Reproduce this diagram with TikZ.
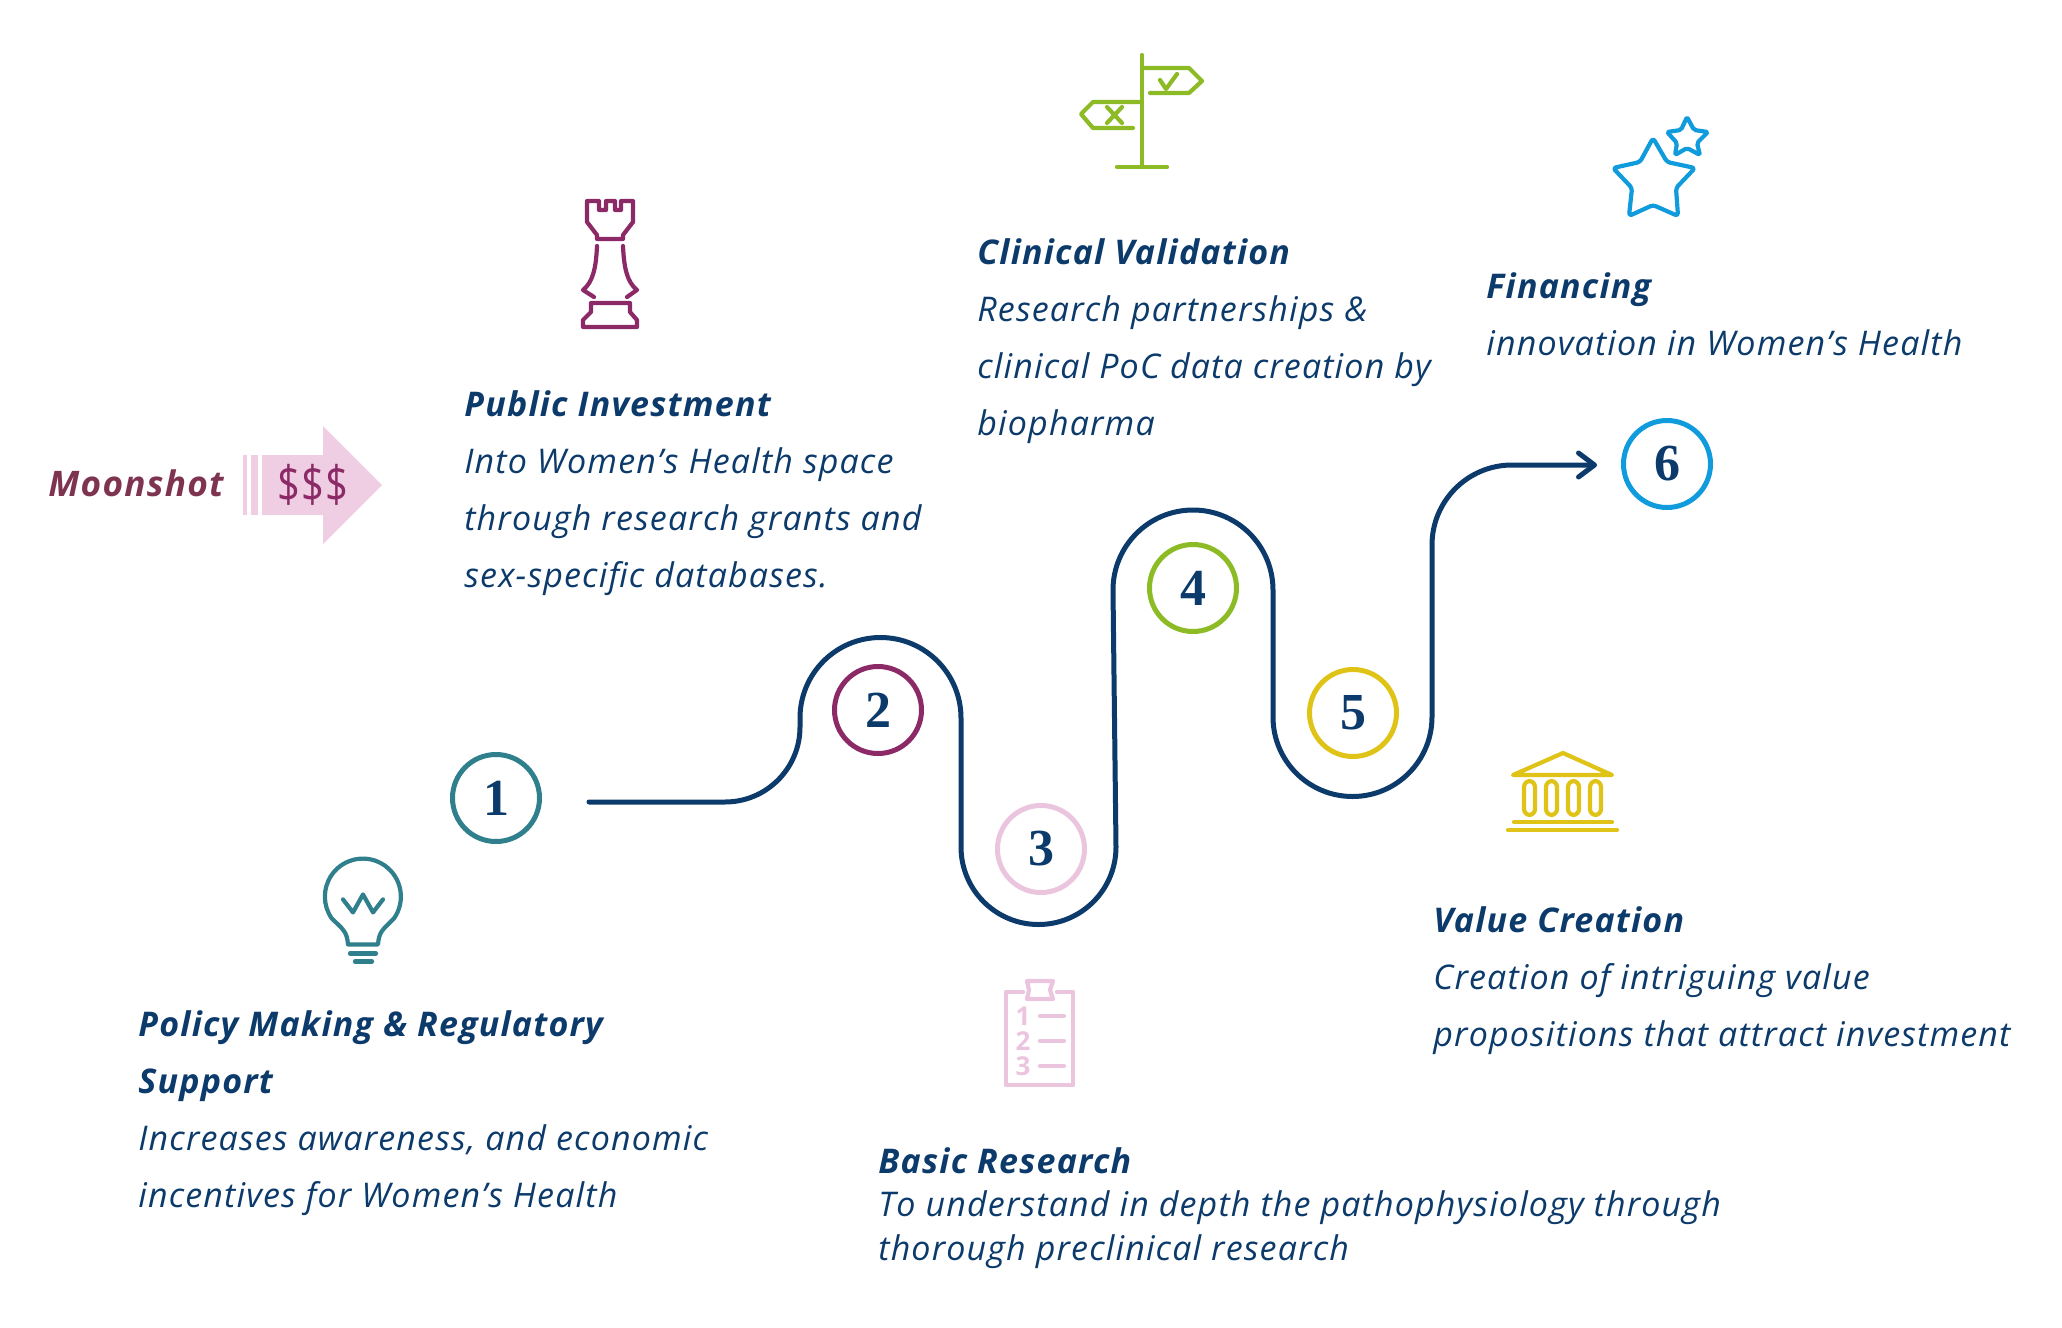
\documentclass[tikz,border=0pt]{standalone}
\usepackage{fontspec}
\setmainfont{Open Sans}[LetterSpace=3.4,BoldItalicFeatures={LetterSpace=3.6}]
\newfontfamily\numfont{Liberation Serif}
\usetikzlibrary{arrows.meta,positioning}
\definecolor{navy}{HTML}{0B3A6B}
\definecolor{teal1}{HTML}{2F7F8C}
\definecolor{plum2}{HTML}{8B2A66}
\definecolor{pink3}{HTML}{EBC4DE}
\definecolor{green4}{HTML}{8DBB25}
\definecolor{gold5}{HTML}{DFC317}
\definecolor{blue6}{HTML}{0F9BDC}
\definecolor{arrowpink}{HTML}{EFCEE3}
\definecolor{moonred}{HTML}{7E3350}
\tikzset{
step_circle/.style={
	% The shape:
	circle,
	minimum size=43.5pt,
	inner sep=0pt,
	% The border:
	line width=2.5pt,
	draw=#1,
	% Font
	text=navy,
	font=\numfont\bfseries\fontsize{26}{26}\selectfont
},
step_text/.style={
	anchor=north west,
	inner sep=0pt,
	align=left,
	text=navy,
	font=\itshape\fontsize{17}{28.6}\selectfont
},
icon/.style={
	line width=2.1pt,
	line cap=round,
	line join=round,
	draw=#1
}
}

\begin{document}
\begin{tikzpicture}[x=0.5pt,y=-0.5pt]
	\useasboundingbox (0,0) rectangle (2062,1328);

	% numbered stops
	\node[step_circle=teal1] (c1) at (496,798) {1};
	\node[step_circle=plum2] (c2) at (878,710) {2};
	\node[step_circle=pink3] (c3) at (1041,849) {3};
	\node[step_circle=green4] (c4) at (1193,588) {4};
	\node[step_circle=gold5] (c5) at (1353,713) {5};
	\node[step_circle=blue6] (c6) at (1667,464) {6};

	% the road
	\coordinate (road_start) at (589,802);
	\coordinate (road_end) at (1597,465);
	\draw[navy,line width=2.5pt,line cap=round,-{Straight Barb[round,length=8pt,width=12pt]}] (road_start) -- (725,802)
		arc[start angle=90,end angle=0,radius=75] -- (800,718)
		arc[start angle=180,end angle=360,radius=80.5] -- (961,847)
		arc[start angle=180,end angle=0,radius=77.5] -- (1116,847) -- (1113,590)
		arc[start angle=180,end angle=360,radius=80] -- (1273,717)
		arc[start angle=180,end angle=0,radius=79.5] -- (1432,545)
		arc[start angle=180,end angle=270,radius=80] -- (road_end);

	% texts
	\node[step_text] (policy) at (138,1010) {\textbf{Policy Making \& Regulatory}\\\textbf{Support}\\Increases awareness, and economic\\incentives for Women’s Health};
	\node[step_text] (public) at (464,390) {\textbf{Public Investment}\\Into Women’s Health space\\through research grants and\\sex-specific databases.};
	\node[step_text] (basic) at (878,1147) [font=\itshape\fontsize{17}{21.7}\selectfont] {\textbf{Basic Research}\\To understand in depth the pathophysiology through\\thorough preclinical research};
	\node[step_text] (clinical) at (977,238) {\textbf{Clinical Validation}\\Research partnerships \&\\clinical PoC data creation by\\biopharma};
	\node[step_text] (value) at (1433,906) {\textbf{Value Creation}\\Creation of intriguing value\\propositions that attract investment};
	\node[step_text] (financing) at (1486,272) {\textbf{Financing}\\innovation in Women’s Health};

	% moonshot arrow
	\node[anchor=base west,inner sep=0pt,text=moonred,font=\bfseries\itshape\fontsize{17.6}{18}\selectfont] (moonshot) at (48,496) {Moonshot};
	\fill[arrowpink] (243,455) rectangle (247,515);
	\fill[arrowpink] (251,455) rectangle (258,515);
	\fill[arrowpink] (262,455) -- (323,455) -- (323,426) -- (382,485) -- (323,544) -- (323,515) -- (262,515) -- cycle;
	\node[text=plum2,inner sep=0pt,font=\fontsize{21}{24}\selectfont] (money) at (313,485) {\scalebox{0.95}[1.2]{\$\$\$}};

	% bulb
	\begin{scope}[yshift=-0.7pt]
	\draw[icon=teal1] (348,943) -- (378,943) .. controls (379,930) and (383,928) .. (394,917)
		arc[start angle=35,end angle=-215,radius=38] .. controls (343,928) and (347,930) .. (348,943);
	\draw[icon=teal1] (343,898) -- (353,911) -- (363,893) -- (373,911) -- (383,898);
	\draw[icon=teal1] (350,952) -- (376,952);
	\draw[icon=teal1] (355,960) -- (372,960);
	\end{scope}

	% rook
	\draw[icon=plum2] (587,201) -- (599,201) -- (599,210) -- (606,210) -- (606,201) -- (615,201) -- (615,210) -- (621,210) -- (621,201) -- (633,201) -- (633,222) -- (623,235) -- (623,239) -- (597,239) -- (597,235) -- (587,222) -- cycle;
	\draw[icon=plum2] (597,246) .. controls (596,268) and (593,282) .. (583,290) -- (594,297);
	\draw[icon=plum2] (623,246) .. controls (624,268) and (627,282) .. (637,290) -- (627,297);
	\draw[icon=plum2] (591,303) -- (630,303) -- (630,312) -- (637,320) -- (637,327) -- (583,327) -- (583,320) -- (591,312) -- cycle;

	% clipboard
	\draw[icon=pink3] (1023,992) -- (1006,992) -- (1006,1085) -- (1073,1085) -- (1073,992) -- (1057,992);
	\draw[icon=pink3] (1027,981) -- (1053,981) -- (1050,990) -- (1053,999) -- (1027,999) -- (1029,990) -- cycle;
	\foreach \n/\y in {1/1016,2/1041,3/1066}{
		\node[text=pink3,inner sep=0pt,font=\bfseries\fontsize{13}{14}\selectfont] (num\n) at (1023,\y) {\n};
		\draw[icon=pink3] (1040,\y) -- (1064,\y);
	}

	% signpost
	\draw[icon=green4] (1142,55) -- (1142,167);
	\draw[icon=green4] (1117,167) -- (1167,167);
	\draw[icon=green4] (1142,68) -- (1189,68) -- (1202,81) -- (1189,93) -- (1150,93);
	\draw[icon=green4] (1160,80) -- (1166,89) -- (1177,74);
	\draw[icon=green4] (1142,102) -- (1093,102) -- (1081,114) -- (1093,128) -- (1133,128);
	\draw[icon=green4] (1107,107) -- (1122,123);
	\draw[icon=green4] (1122,107) -- (1107,123);

	% bank
	\draw[icon=gold5] (1513,775) -- (1563,753) -- (1612,775) -- cycle;
	\foreach \x in {1524,1546,1568,1590}{
		\draw[icon=gold5,rounded corners=3pt] (\x,781) rectangle (\x+11,815);
	}
	\draw[icon=gold5] (1514,822) -- (1612,822);
	\draw[icon=gold5] (1508,830) -- (1617,830);

	% stars
	\draw[icon=blue6,rounded corners=1.5pt] (1653,138) -- (1667,162) -- (1695,168) -- (1676,188) -- (1678,216) -- (1653,205) -- (1629,216) -- (1632,188) -- (1613,168) -- (1640,162) -- cycle;
	\draw[icon=blue6,rounded corners=1pt] (1687,117) -- (1694,130) -- (1708,132) -- (1697,143) -- (1700,155) -- (1687,148) -- (1675,155) -- (1677,143) -- (1667,132) -- (1681,130) -- cycle;
\end{tikzpicture}
\end{document}
